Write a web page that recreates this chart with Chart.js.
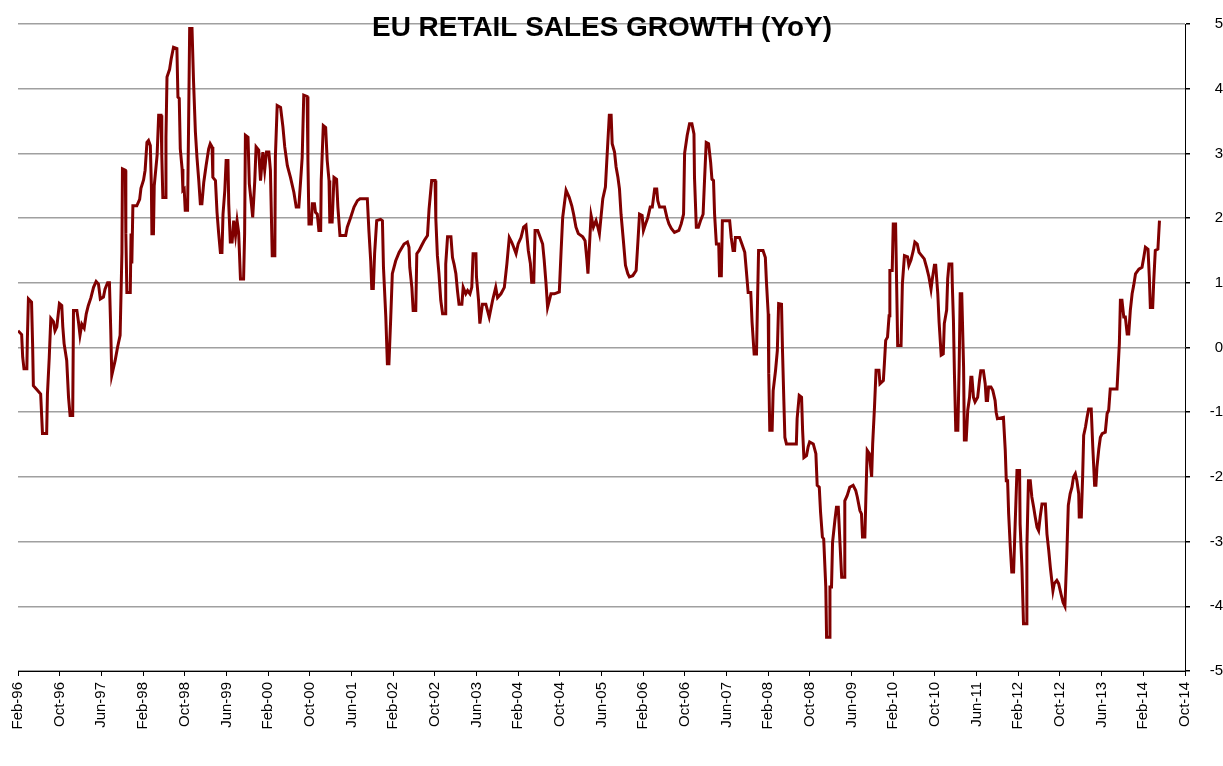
<!DOCTYPE html>
<html>
<head>
<meta charset="utf-8">
<script src="https://cdn.jsdelivr.net/npm/chart.js@4"></script>
<style>
  html, body { margin: 0; padding: 0; background: #fff; }
  #wrap { width: 1223px; height: 766px; position: relative; }
</style>
</head>
<body>
<div id="wrap"><canvas id="retailChart"></canvas></div>
<script>
const chartTitle = 'EU RETAIL SALES GROWTH (YoY)';

// x tick labels, one every 8 months from Feb-96
const tickLabels = ['Feb-96', 'Oct-96', 'Jun-97', 'Feb-98', 'Oct-98', 'Jun-99', 'Feb-00', 'Oct-00',
  'Jun-01', 'Feb-02', 'Oct-02', 'Jun-03', 'Feb-04', 'Oct-04', 'Jun-05', 'Feb-06', 'Oct-06',
  'Jun-07', 'Feb-08', 'Oct-08', 'Jun-09', 'Feb-10', 'Oct-10', 'Jun-11', 'Feb-12', 'Oct-12',
  'Jun-13', 'Feb-14', 'Oct-14'];

// months since Feb-96
const monthIndex = [
  0, 0.7, 0.9, 1.15, 1.7, 1.8, 2.0, 2.6, 2.8, 2.95,
  3.6, 4.35, 4.7, 5.5, 5.65, 6.0, 6.3, 6.8, 7.1, 7.45,
  7.95, 8.4, 8.6, 8.85, 9.35, 9.7, 10.0, 10.5, 10.65, 11.3,
  11.6, 11.9, 12.25, 12.7, 13.1, 13.5, 14.0, 14.5, 15.0, 15.45,
  15.8, 16.4, 16.7, 17.2, 17.55, 17.8, 18.0, 18.65, 19.1, 19.6,
  19.95, 20.05, 20.6, 20.7, 20.9, 21.55, 21.7, 21.85, 22.05, 22.8,
  23.35, 23.6, 24.1, 24.4, 24.75, 25.05, 25.4, 25.6, 25.7, 26.0,
  26.15, 26.7, 27.0, 27.45, 27.6, 27.8, 28.25, 28.4, 28.6, 29.1,
  29.4, 29.85, 30.5, 30.7, 30.95, 31.15, 31.5, 31.65, 31.9, 32.1,
  32.55, 32.75, 32.95, 33.4, 33.7, 34.05, 34.35, 34.7, 35.0, 35.3,
  35.65, 36.1, 36.6, 36.9, 37.25, 37.4, 37.9, 38.2, 38.5, 38.85,
  39.15, 39.35, 39.7, 39.95, 40.3, 40.45, 40.75, 41.1, 41.4, 41.75,
  42.05, 42.35, 42.7, 43.3, 43.5, 43.65, 44.15, 44.4, 44.8, 45.05,
  45.45, 45.7, 46.2, 46.55, 47.0, 47.35, 47.7, 48.15, 48.45, 48.8,
  49.3, 49.4, 49.75, 50.4, 50.85, 51.2, 51.7, 52.3, 52.95, 53.4,
  53.9, 54.25, 54.55, 54.85, 55.5, 55.65, 55.85, 56.3, 56.5, 56.9,
  57.1, 57.45, 57.75, 58.1, 58.2, 58.6, 59.05, 59.35, 59.7, 59.85,
  60.3, 60.65, 61.15, 61.4, 61.8, 62.9, 63.2, 63.85, 64.5, 65.15,
  65.65, 67.05, 67.35, 67.7, 67.9, 68.2, 68.45, 68.85, 69.6, 69.95,
  70.15, 70.6, 70.9, 71.2, 71.55, 71.85, 72.5, 73.15, 74.1, 74.75,
  75.05, 75.2, 75.6, 75.85, 76.35, 76.55, 77.0, 77.5, 77.95, 78.6,
  78.9, 79.4, 80.05, 80.2, 80.5, 80.8, 81.15, 81.5, 82.0, 82.1,
  82.45, 83.1, 83.4, 83.7, 84.05, 84.35, 84.65, 85.2, 85.45, 85.95,
  86.3, 86.75, 87.1, 87.35, 87.9, 88.0, 88.4, 88.65, 89.15, 89.8,
  90.45, 91.1, 91.7, 92.05, 92.7, 93.35, 93.85, 94.3, 94.75, 95.15,
  95.6, 96.0, 96.55, 97.05, 97.5, 97.95, 98.35, 98.6, 99.0, 99.25,
  99.75, 100.25, 100.7, 101.0, 101.35, 101.65, 102.3, 102.95, 103.9, 104.25,
  104.55, 105.2, 105.8, 106.3, 106.65, 107.1, 107.55, 108.4, 108.85, 109.2,
  109.4, 110.0, 110.45, 110.95, 111.3, 111.6, 111.9, 112.25, 112.75, 113.0,
  113.2, 113.5, 113.85, 114.05, 114.5, 114.8, 115.15, 115.45, 115.75, 116.2,
  116.6, 117.05, 117.35, 118.0, 118.65, 119.0, 119.3, 119.8, 120.05, 120.45,
  120.9, 121.35, 121.75, 122.2, 122.6, 122.8, 123.15, 124.1, 124.55, 124.95,
  125.4, 126.0, 126.85, 127.3, 127.75, 127.95, 128.45, 128.9, 129.35, 129.75,
  129.85, 130.2, 130.6, 131.0, 131.5, 131.8, 132.1, 132.55, 132.95, 133.2,
  133.5, 133.7, 134.05, 134.5, 134.65, 135.0, 135.2, 136.6, 136.9, 137.25,
  137.55, 137.7, 138.5, 138.95, 139.5, 139.8, 140.15, 140.65, 140.9, 141.3,
  141.75, 141.9, 142.15, 143.0, 143.45, 143.65, 144.0, 144.1, 144.3, 144.75,
  144.95, 145.4, 145.75, 146.0, 146.55, 146.75, 147.0, 147.2, 147.5, 149.4,
  149.55, 149.95, 150.4, 150.6, 150.85, 151.35, 151.65, 151.95, 152.65, 153.15,
  153.4, 153.8, 154.05, 154.4, 154.65, 155.05, 155.2, 155.7, 155.85, 156.15,
  156.35, 156.8, 157.1, 157.45, 157.75, 158.1, 158.6, 158.7, 159.15, 159.65,
  160.3, 160.8, 161.1, 161.6, 161.9, 162.1, 162.55, 162.75, 163.0, 163.4,
  163.85, 164.05, 164.4, 164.7, 165.25, 165.45, 166.1, 166.3, 166.55, 166.9,
  167.2, 167.35, 167.8, 168.0, 168.45, 168.65, 168.85, 169.5, 169.75, 170.15,
  170.75, 171.0, 171.4, 171.85, 172.15, 172.6, 172.95, 173.45, 173.95, 174.4,
  174.85, 175.25, 175.5, 175.9, 176.15, 176.55, 176.8, 177.2, 177.6, 177.8,
  178.25, 178.45, 178.7, 179.25, 179.35, 179.55, 179.75, 180.0, 180.4, 180.65,
  180.85, 181.15, 181.5, 181.65, 182.0, 182.3, 182.65, 182.9, 183.1, 183.4,
  183.7, 184.2, 184.55, 184.8, 185.3, 185.65, 185.85, 186.1, 186.3, 186.75,
  187.1, 187.55, 187.75, 188.0, 189.15, 189.5, 189.7, 189.95, 190.15, 190.45,
  190.75, 191.1, 191.4, 191.75, 192.25, 192.35, 192.7, 193.0, 193.5, 193.65,
  193.95, 194.3, 194.6, 194.95, 195.25, 195.6, 195.9, 196.2, 196.55, 197.2,
  197.5, 197.85, 198.15, 198.65, 198.9, 199.4, 199.75, 200.2, 200.6, 200.95,
  201.3, 201.6, 201.95, 202.3, 202.6, 202.95, 203.25, 203.6, 203.7, 204.1,
  204.35, 204.55, 204.9, 205.2, 205.5, 206.0, 206.3, 206.65, 206.9, 207.1,
  207.45, 207.75, 208.1, 208.7, 209.05, 209.35, 209.65, 210.95, 211.4, 211.6,
  211.9, 212.25, 212.55, 212.9, 213.2, 213.5, 213.85, 214.15, 214.5, 215.15,
  215.75, 216.1, 216.4, 216.9, 217.15, 217.35, 217.8, 218.0, 218.3, 218.8,
  219.1
];

// YoY growth, %
const yoyGrowth = [
  0.26, 0.2, -0.15, -0.33, -0.33, 0.14, 0.75, 0.7, 0.06, -0.59,
  -0.65, -0.72, -1.33, -1.33, -0.72, -0.15, 0.45, 0.4, 0.26, 0.32,
  0.68, 0.65, 0.32, 0.06, -0.2, -0.77, -1.05, -1.05, 0.57, 0.57,
  0.4, 0.19, 0.36, 0.3, 0.52, 0.65, 0.77, 0.93, 1.02, 0.98,
  0.75, 0.78, 0.9, 1.0, 1.0, 0.28, -0.43, -0.2, 0.0, 0.19,
  1.47, 2.76, 2.74, 1.76, 0.85, 0.85, 1.76, 1.3, 2.19, 2.19,
  2.29, 2.46, 2.59, 2.74, 3.17, 3.2, 3.12, 2.5, 1.76, 1.76,
  2.5, 2.97, 3.59, 3.59, 2.97, 2.32, 2.32, 3.25, 4.18, 4.3,
  4.46, 4.64, 4.62, 3.87, 3.85, 3.07, 2.76, 2.43, 2.45, 2.12,
  2.12, 3.48, 4.93, 4.93, 4.1, 3.33, 2.94, 2.58, 2.22, 2.22,
  2.55, 2.81, 3.07, 3.15, 3.1, 2.63, 2.58, 2.09, 1.78, 1.47,
  1.47, 2.06, 2.43, 2.89, 2.89, 2.22, 1.63, 1.63, 1.96, 1.73,
  1.96, 1.78, 1.06, 1.06, 1.76, 3.28, 3.25, 2.53, 2.22, 2.01,
  2.58, 3.1, 3.05, 2.58, 3.02, 2.74, 3.02, 3.02, 2.74, 1.42,
  1.42, 2.94, 3.74, 3.71, 3.41, 3.1, 2.81, 2.63, 2.4, 2.17,
  2.17, 2.58, 2.94, 3.9, 3.88, 2.89, 1.91, 1.91, 2.22, 2.22,
  2.09, 2.06, 1.81, 1.81, 2.58, 3.43, 3.4, 2.89, 2.58, 1.94,
  1.94, 2.63, 2.6, 2.17, 1.73, 1.73, 1.86, 2.01, 2.17, 2.27,
  2.3, 2.3, 1.81, 1.34, 0.91, 0.91, 1.45, 1.96, 1.98, 1.96,
  1.24, 0.47, -0.25, -0.25, 0.47, 1.14, 1.34, 1.47, 1.6, 1.63,
  1.55, 1.24, 0.93, 0.57, 0.57, 1.45, 1.5, 1.58, 1.65, 1.73,
  2.14, 2.58, 2.58, 1.99, 1.42, 1.14, 0.73, 0.52, 0.52, 1.29,
  1.71, 1.71, 1.39, 1.29, 1.14, 0.88, 0.67, 0.67, 0.93, 0.83,
  0.88, 0.83, 0.93, 1.45, 1.45, 1.09, 0.73, 0.37, 0.67, 0.67,
  0.47, 0.73, 0.93, 0.77, 0.83, 0.93, 1.3, 1.7, 1.63, 1.55,
  1.45, 1.6, 1.7, 1.86, 1.89, 1.5, 1.3, 1.01, 1.01, 1.81,
  1.81, 1.7, 1.6, 1.35, 0.99, 0.62, 0.83, 0.83, 0.86, 1.5,
  2.01, 2.43, 2.32, 2.19, 2.06, 1.86, 1.76, 1.71, 1.65, 1.35,
  1.14, 2.04, 1.86, 1.96, 1.86, 1.76, 2.01, 2.3, 2.48, 2.86,
  3.15, 3.59, 3.59, 3.15, 3.02, 2.79, 2.63, 2.45, 2.06, 1.65,
  1.27, 1.14, 1.09, 1.11, 1.19, 1.65, 2.06, 2.04, 1.81, 1.91,
  2.01, 2.17, 2.17, 2.45, 2.45, 2.27, 2.17, 2.17, 2.01, 1.91,
  1.84, 1.78, 1.81, 1.91, 2.06, 3.0, 3.28, 3.46, 3.46, 3.3,
  2.63, 1.86, 1.86, 1.96, 2.06, 2.63, 3.17, 3.15, 2.86, 2.6,
  2.58, 2.07, 1.6, 1.6, 1.11, 1.11, 1.96, 1.96, 1.7, 1.5,
  1.5, 1.7, 1.7, 1.6, 1.47, 1.19, 0.85, 0.85, 0.39, -0.1,
  -0.1, 0.52, 1.5, 1.5, 1.39, 1.03, 0.52, -0.4, -1.28, -1.28,
  -0.67, -0.36, -0.05, 0.68, 0.67, -0.07, -0.82, -1.39, -1.49, -1.49,
  -1.1, -0.74, -0.77, -1.28, -1.7, -1.67, -1.54, -1.46, -1.49, -1.64,
  -2.13, -2.16, -2.55, -2.93, -2.96, -3.7, -4.48, -4.48, -3.7, -3.7,
  -3.01, -2.67, -2.47, -2.47, -2.98, -3.55, -3.55, -2.37, -2.29, -2.16,
  -2.13, -2.21, -2.31, -2.52, -2.57, -2.93, -2.93, -2.31, -1.59, -1.64,
  -2.0, -1.49, -0.92, -0.35, -0.35, -0.56, -0.51, -0.25, 0.11, 0.16,
  0.49, 1.19, 1.19, 1.91, 1.91, 0.98, 0.03, 0.03, 0.98, 1.42,
  1.4, 1.27, 1.35, 1.5, 1.63, 1.6, 1.47, 1.42, 1.37, 1.24,
  1.09, 0.9, 1.06, 1.27, 1.27, 0.83, 0.39, -0.12, -0.1, 0.37,
  0.58, 1.06, 1.29, 1.29, 0.93, 0.42, -0.43, -1.28, -1.28, -0.3,
  0.83, 0.83, -0.3, -1.43, -1.43, -0.97, -0.77, -0.46, -0.46, -0.77,
  -0.84, -0.77, -0.51, -0.36, -0.36, -0.56, -0.82, -0.82, -0.61, -0.61,
  -0.66, -0.82, -1.0, -1.1, -1.08, -1.59, -2.06, -2.06, -2.57, -3.06,
  -3.47, -3.47, -2.73, -1.9, -1.9, -2.73, -3.4, -4.27, -4.27, -3.09,
  -2.06, -2.06, -2.31, -2.47, -2.62, -2.78, -2.83, -2.62, -2.42, -2.42,
  -2.88, -3.14, -3.4, -3.76, -3.65, -3.6, -3.65, -3.81, -3.94, -4.0,
  -3.24, -2.44, -2.26, -2.16, -2.0, -1.95, -2.06, -2.26, -2.62, -2.62,
  -2.0, -1.36, -1.23, -1.08, -0.95, -0.95, -1.54, -2.13, -2.13, -1.85,
  -1.57, -1.39, -1.33, -1.31, -1.02, -0.97, -0.64, -0.64, 0.06, 0.73,
  0.73, 0.47, 0.47, 0.21, 0.21, 0.57, 0.83, 0.96, 1.14, 1.21,
  1.24, 1.4, 1.55, 1.52, 1.09, 0.62, 0.62, 1.03, 1.5, 1.52,
  1.96
];

const tickFont = { family: '"Liberation Sans", Arial, sans-serif', size: 15 };

// title sits inside the plot, drawn on top like the original
const overlayTitle = {
  id: 'overlayTitle',
  afterDraw(chart) {
    const ctx = chart.ctx;
    ctx.save();
    ctx.font = 'bold 20px "Liberation Sans"';
    const w = ctx.measureText(chartTitle).width;
    ctx.font = 'bold ' + (20 * 460 / w).toFixed(2) + 'px "Liberation Sans"';
    ctx.fillStyle = '#000';
    ctx.textAlign = 'center';
    ctx.textBaseline = 'middle';
    ctx.fillText(chartTitle, 602, 28);
    ctx.restore();
  }
};

const ctx = document.getElementById('retailChart').getContext('2d');
new Chart(ctx, {
  type: 'line',
  data: {
    datasets: [{
      data: monthIndex.map((m, i) => ({ x: m, y: yoyGrowth[i] })),
      borderColor: '#800000',
      borderWidth: 3,
      pointRadius: 0,
      tension: 0,
      fill: false
    }]
  },
  options: {
    responsive: true,
    maintainAspectRatio: false,
    animation: false,
    layout: { padding: { left: 18, top: 24, right: 0, bottom: 0 } },
    plugins: {
      legend: { display: false },
      tooltip: { enabled: false }
    },
    scales: {
      x: {
        type: 'linear',
        min: 0,
        max: 224,
        ticks: {
          stepSize: 8,
          autoSkip: false,
          minRotation: 90,
          maxRotation: 90,
          padding: 6,
          color: '#000',
          font: tickFont,
          callback: (v) => tickLabels[Math.round(v / 8)]
        },
        grid: { drawOnChartArea: false, tickLength: 5, color: '#000' },
        border: { color: '#000', width: 1 },
        afterFit(s) { s.height = 95; s.paddingLeft = 0; s.paddingRight = 0; }
      },
      y: {
        position: 'right',
        min: -5,
        max: 5,
        ticks: {
          stepSize: 1,
          padding: 12,
          crossAlign: 'far',
          color: '#000',
          font: tickFont
        },
        grid: { color: '#a0a0a0', lineWidth: 1.5, tickLength: 5, tickColor: '#000' },
        border: { color: '#000', width: 1 },
        afterFit(s) { s.width = 38; s.paddingTop = 0; s.paddingBottom = 0; }
      }
    }
  },
  plugins: [overlayTitle]
});
</script>
</body>
</html>
